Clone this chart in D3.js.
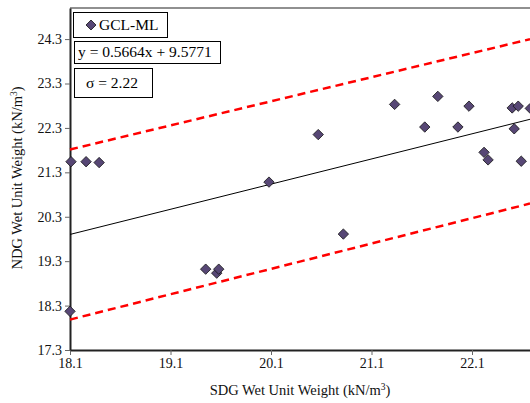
<!DOCTYPE html>
<html><head><meta charset="utf-8">
<script src="https://cdn.jsdelivr.net/npm/d3@7"></script>
<style>body{margin:0;background:#fff;}svg{display:block;font-family:"Liberation Serif","Times New Roman",serif;}</style>
</head><body><svg id="c" width="530" height="403"></svg>
<script>
// Data
const sdg = [18.11, 18.26, 18.39, 18.10, 19.45, 19.56, 19.58, 20.08, 20.57, 20.82, 21.33, 21.63, 21.76, 21.96, 22.07, 22.22, 22.26, 22.50, 22.52, 22.56, 22.59, 22.68];
const ndg = [21.54, 21.54, 21.52, 18.17, 19.12, 19.03, 19.12, 21.08, 22.15, 19.91, 22.83, 22.32, 23.01, 22.32, 22.79, 21.75, 21.58, 22.75, 22.28, 22.79, 21.55, 22.74];
const xTicks = [18.1, 19.1, 20.1, 21.1, 22.1];
const yTicks = [17.3, 18.3, 19.3, 20.3, 21.3, 22.3, 23.3, 24.3];
const seriesName = "GCL-ML";
const eqText = "y = 0.5664x + 9.5771";
const sigmaText = "σ = 2.22";
// lines: [slope, intercept]
const fitLine = [0.5664, 9.65];
const upperLine = [0.5427, 11.991];
const lowerLine = [0.5707, 7.655];

const svg = d3.select("#c");
const x = d3.scaleLinear().domain([18.1, 23.1]).range([70, 572.5]);
const y = d3.scaleLinear().domain([17.3, 25.0]).range([350, 8]);
const xMin = 18.1, xMax = x.invert(530);

// top border
svg.append("line").attr("x1", 70).attr("x2", 530).attr("y1", 8).attr("y2", 8)
  .attr("stroke", "#222").attr("stroke-width", 1.2);

// axes
const gx = svg.append("g").attr("transform", "translate(0,350)")
  .call(d3.axisBottom(x).tickValues(xTicks).tickFormat(d3.format(".1f")).tickSize(5).tickSizeOuter(0));
const gy = svg.append("g").attr("transform", "translate(70,0)")
  .call(d3.axisLeft(y).tickValues(yTicks).tickFormat(d3.format(".1f")).tickSize(5).tickSizeOuter(0));
[gx, gy].forEach(g => {
  g.select(".domain").attr("stroke", "#222").attr("stroke-width", 2);
  g.selectAll(".tick line").attr("stroke", "#666");
  g.selectAll(".tick text").attr("font-family", "Liberation Serif").attr("font-size", 14).attr("fill", "#111");
});
gy.selectAll(".tick text").attr("x", -8);
gx.selectAll(".tick text").attr("y", 8);

// lines
function drawLine(p, color, width, dash) {
  const l = svg.append("line")
    .attr("x1", x(xMin)).attr("y1", y(p[0] * xMin + p[1]))
    .attr("x2", x(xMax)).attr("y2", y(p[0] * xMax + p[1]))
    .attr("stroke", color).attr("stroke-width", width);
  if (dash) l.attr("stroke-dasharray", dash);
}
drawLine(fitLine, "#000", 1, null);
drawLine(upperLine, "#ff0000", 2.5, "8,5");
drawLine(lowerLine, "#ff0000", 2.5, "8,5");

// points
const pts = sdg.map((v, i) => [v, ndg[i]]);
svg.append("g").selectAll("path").data(pts).join("path")
  .attr("d", "M0,-5.2L5.2,0L0,5.2L-5.2,0Z")
  .attr("transform", d => `translate(${x(d[0])},${y(d[1])})`)
  .attr("fill", "#574775").attr("stroke", "#111").attr("stroke-width", 0.8);

// legend boxes
function box(x0, y0, w, h) {
  svg.append("rect").attr("x", x0 + 0.5).attr("y", y0 + 0.5).attr("width", w).attr("height", h)
    .attr("fill", "#fff").attr("stroke", "#000").attr("stroke-width", 1);
}
box(73, 12, 94, 25);
svg.append("path").attr("d", "M0,-5L5,0L0,5L-5,0Z").attr("transform", "translate(91,25)")
  .attr("fill", "#574775").attr("stroke", "#111").attr("stroke-width", 0.8);
svg.append("text").attr("x", 99).attr("y", 30).attr("font-size", 15.5).attr("fill", "#000").text(seriesName);
box(74, 41, 146, 22);
svg.append("text").attr("x", 78).attr("y", 57).attr("font-size", 15.5).attr("fill", "#000").text(eqText);
box(74, 68, 78, 29);
svg.append("text").attr("x", 112).attr("y", 88).attr("text-anchor", "middle").attr("font-size", 15.5).attr("fill", "#000").text(sigmaText);

// axis titles
const xt = svg.append("text").attr("x", 300).attr("y", 395).attr("text-anchor", "middle").attr("font-size", 14.5).attr("fill", "#111");
xt.append("tspan").text("SDG Wet Unit Weight (kN/m");
xt.append("tspan").attr("dy", -5).attr("font-size", 9.5).text("3");
xt.append("tspan").attr("dy", 5).text(")");
const yt = svg.append("text").attr("transform", "translate(22,178) rotate(-90)").attr("text-anchor", "middle").attr("font-size", 14.5).attr("fill", "#111");
yt.append("tspan").text("NDG Wet Unit Weight (kN/m");
yt.append("tspan").attr("dy", -5).attr("font-size", 9.5).text("3");
yt.append("tspan").attr("dy", 5).text(")");
</script></body></html>
